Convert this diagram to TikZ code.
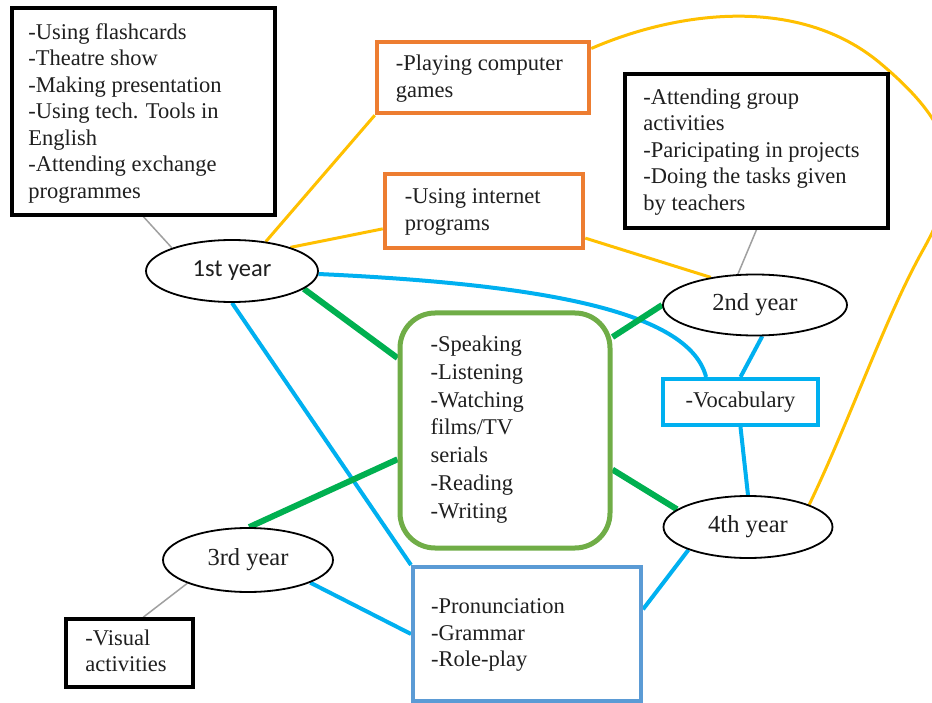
\documentclass[tikz,border=0pt]{standalone}
\usepackage{fontspec}
\setmainfont{Liberation Serif}
\newfontfamily\tnrfont{Liberation Serif}
\newfontfamily\calibfont{Carlito}
\usetikzlibrary{shapes.geometric,calc,backgrounds}
\definecolor{txtc}{HTML}{1F1F1F}
\definecolor{orangebox}{HTML}{ED7D31}
\definecolor{yelline}{HTML}{FFC000}
\definecolor{blueline}{HTML}{00B0F0}
\definecolor{greenline}{HTML}{00B050}
\definecolor{greenbox}{HTML}{70AD47}
\definecolor{bluebox}{HTML}{5B9BD5}
\definecolor{grayline}{HTML}{A0A0A0}
\tikzset{
  boxshape/.style={rectangle, draw, fill=white, inner sep=0pt},
  blackbox/.style={boxshape, draw=black, line width=3.5pt},
  orangeb/.style={boxshape, draw=orangebox, line width=4.5pt},
  greenb/.style={boxshape, draw=greenbox, line width=5pt, rounded corners=35pt},
  blueb/.style={boxshape, draw=bluebox, line width=4pt},
  vocb/.style={boxshape, draw=blueline, line width=4pt},
  yearnode/.style={ellipse, draw=black, line width=1.8pt, fill=white, inner sep=0pt, text=txtc, font=\tnrfont\fontsize{24.5}{28}\selectfont},
  txt/.style={font=\tnrfont\fontsize{22.5}{26.5}\selectfont, align=left, inner sep=0pt, text=txtc, anchor=west},
  grayconn/.style={draw=grayline, line width=1.5pt},
  yelconn/.style={draw=yelline, line width=3pt},
  bluconn/.style={draw=blueline, line width=4pt},
  grnconn/.style={draw=greenline, line width=6pt}
}
\begin{document}
\begin{tikzpicture}[x=1pt,y=-1pt]
\useasboundingbox (0,0) rectangle (932,703);
% boxes
\node[blackbox, minimum width=263pt, minimum height=207pt] (A) at (143.5,111.5) {};
\node[txt] (Atext) at ([xshift=18pt,yshift=-2pt]A.west) {-Using flashcards\\-Theatre show\\-Making presentation\\-Using tech. Tools in\\English\\-Attending exchange\\programmes};
\node[orangeb, minimum width=212pt, minimum height=71pt] (B) at (483,77.5) {};
\node[txt] (Btext) at ([xshift=21pt,yshift=-1pt]B.west) {-Playing computer\\games};
\node[orangeb, minimum width=198pt, minimum height=74pt] (C) at (484,211) {};
\node[txt] (Ctext) at ([xshift=22pt,yshift=-1pt]C.west) {-Using internet\\programs};
\node[blackbox, minimum width=263pt, minimum height=154pt] (D) at (756.5,151) {};
\node[txt] (Dtext) at ([xshift=20pt,yshift=-1pt]D.west) {-Attending group\\activities\\-Paricipating in projects\\-Doing the tasks given\\by teachers};
\node[greenb, minimum width=210pt, minimum height=235pt] (G) at (505,430.5) {};
\node[txt, font=\tnrfont\fontsize{22.5}{27.8}\selectfont] (Gtext) at ([xshift=33pt,yshift=1pt]G.west) {-Speaking\\-Listening\\-Watching\\films/TV\\serials\\-Reading\\-Writing};
\node[blueb, minimum width=228pt, minimum height=134pt] (P) at (527,634) {};
\node[txt] (Ptext) at ([xshift=20pt,yshift=-1pt]P.west) {-Pronunciation\\-Grammar\\-Role-play};
\node[vocb, minimum width=155pt, minimum height=46pt, text=txtc, font=\tnrfont\fontsize{22.5}{26.5}\selectfont] (V) at (740.5,402) {-Vocabulary};
\node[blackbox, minimum width=127pt, minimum height=68pt] (VA) at (129.5,653) {};
\node[txt] (VAtext) at ([xshift=21pt,yshift=2pt]VA.west) {-Visual\\activities};
% years
\node[yearnode, minimum width=172pt, minimum height=62pt, font=\calibfont\fontsize{24.5}{28}\selectfont] (Y1) at (232,271) {1st year};
\node[yearnode, minimum width=184pt, minimum height=61pt] (Y2) at (755,305) {2nd year};
\node[yearnode, minimum width=170pt, minimum height=64pt] (Y3) at (248,560) {3rd year};
\node[yearnode, minimum width=169pt, minimum height=62pt] (Y4) at (748,527) {4th year};
% connectors
\begin{scope}[on background layer]
\fill[white] (0,0) rectangle (932,703);
\clip (0,0) rectangle (932,703);
\coordinate (k1) at (880,63);
\coordinate (k2) at (923,250);
\draw[grayconn] (A.south) -- (Y1.159);
\draw[grayconn] (D.south) -- (Y2.119);
\draw[grayconn] (Y3.201) -- (VA.69);
\draw[yelconn] (Y1.41) -- (B.south west);
\draw[yelconn] (Y1.22) -- (C.190);
\draw[yelconn] (C.-15) -- (Y2.148);
\draw[yelconn] (B.15) .. controls (680,10) and (800,-4) .. (k1)
   .. controls (960,130) and (965,175) .. (k2)
   .. controls (885,318) and (850,420) .. (Y4.20);
\draw[bluconn] (Y1.-2) .. controls (560,285) and (690,315) .. (V.144);
\draw[bluconn] (Y1.south) -- (P.north west);
\draw[bluconn] (Y2.-77) -- (V.north);
\draw[bluconn] (V.south) -- (Y4.north);
\draw[bluconn] (Y4.201) -- (P.12);
\draw[bluconn] (Y3.-20) -- (P.west);
\draw[grnconn] (Y1.-14) -- (G.146.5);
\draw[grnconn] (G.41.7) -- (Y2.west);
\draw[grnconn] (G.195) -- (Y3.88);
\draw[grnconn] (G.-20.6) -- (Y4.166);
\end{scope}
\end{tikzpicture}
\end{document}
